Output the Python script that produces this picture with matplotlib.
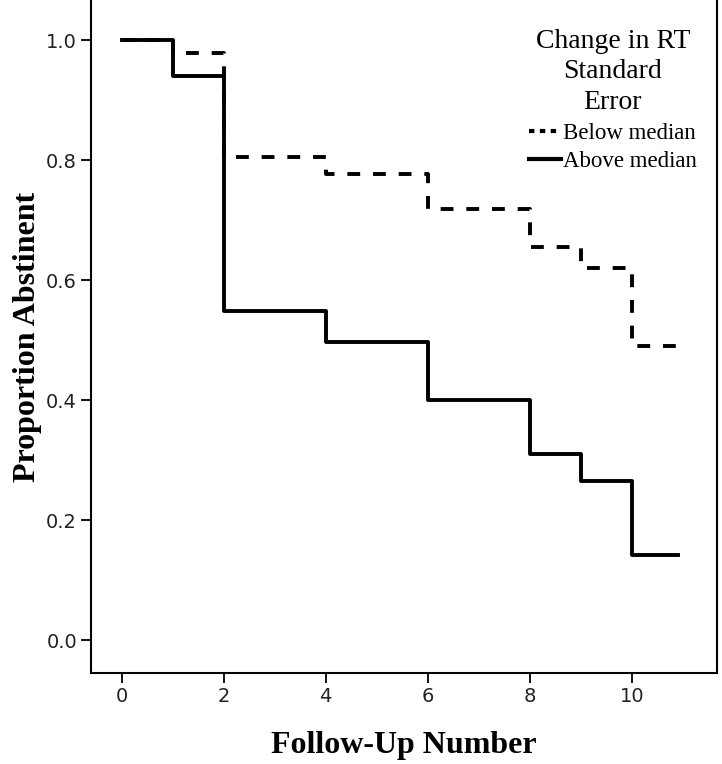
import matplotlib.pyplot as plt
from matplotlib.lines import Line2D

# follow-up times where the curves step
times = [0, 1, 2, 4, 6, 8, 9, 10]
below = [1.0, 0.978, 0.805, 0.777, 0.718, 0.655, 0.62, 0.49]
above = [1.0, 0.94, 0.548, 0.497, 0.40, 0.31, 0.265, 0.142]
end_below = 10.95
end_above = 10.9

xticks = [0, 2, 4, 6, 8, 10]
yticks = [0.0, 0.2, 0.4, 0.6, 0.8, 1.0]

serif = ['Liberation Serif', 'DejaVu Serif']
narrow = ['DejaVu Sans']

fig = plt.figure(figsize=(7.22, 7.64), dpi=100)
ax = fig.add_axes([0.126, 0.119, 0.867, 0.881])

ax.plot(times + [end_below], below + [below[-1]], drawstyle='steps-post',
        color='black', lw=2.8, linestyle=(0, (3.3, 3.3)), label='Below median')
ax.plot(times + [end_above], above + [above[-1]], drawstyle='steps-post',
        color='black', lw=2.8, label='Above median')

ax.set_xlim(-0.6, 11.67)
ax.set_ylim(-0.055, 1.067)
ax.set_xticks(xticks)
ax.set_yticks(yticks)
ax.set_xticklabels([str(t) for t in xticks], fontfamily=narrow, fontsize=14)
ax.set_yticklabels(['%.1f' % t for t in yticks], fontfamily=narrow, fontsize=14)
ax.tick_params(direction='out', length=7, width=1.3, colors='black', pad=3)
ax.tick_params(axis='x', labelcolor='#222222')
ax.tick_params(axis='y', labelcolor='#222222')
ax.spines['top'].set_visible(False)
for s in ['left', 'right', 'bottom']:
    ax.spines[s].set_linewidth(1.5)

ax.set_xlabel('Follow-Up Number', fontfamily=serif, fontweight='bold', fontsize=23, labelpad=18)
ax.set_ylabel('Proportion Abstinent', fontfamily=serif, fontweight='bold', fontsize=23, labelpad=3)

handles = [Line2D([], [], color='black', lw=3, linestyle=(0, (1.3, 1.3))),
           Line2D([], [], color='black', lw=3)]
leg = ax.legend(handles, ['Below median', 'Above median'], loc='upper right',
                bbox_to_anchor=(0.99, 0.978), frameon=False,
                title='Change in RT\nStandard\nError',
                prop={'family': serif, 'size': 16.5}, handlelength=1.4,
                handletextpad=0.1, labelspacing=0.3, borderaxespad=0.2)
leg.get_title().set_fontfamily(serif)
leg.get_title().set_fontsize(20)
leg.get_title().set_multialignment('center')
leg.get_title().set_linespacing(1.3)
leg._legend_box.sep = 6

fig.savefig('out.png', dpi=100)
